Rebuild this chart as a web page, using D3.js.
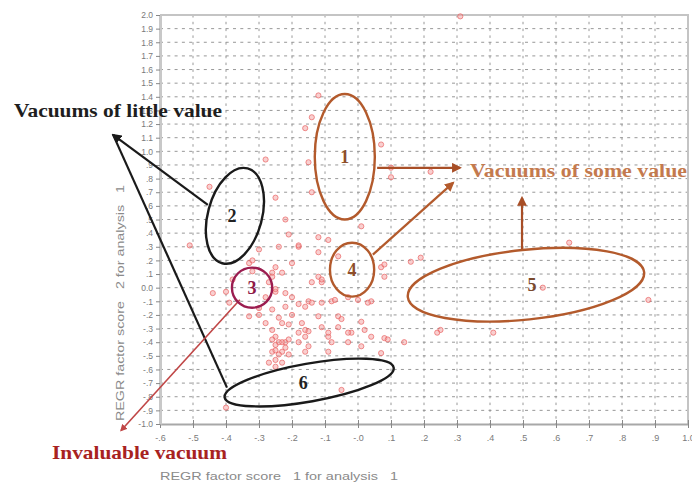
<!DOCTYPE html>
<html><head><meta charset="utf-8">
<script src="https://cdn.jsdelivr.net/npm/d3@7"></script>
<style>
html,body{margin:0;padding:0;background:#fff;}
svg{display:block;}
text{white-space:pre;}
</style></head>
<body>
<svg id="chart" width="692" height="486"></svg>
<script>
// ---- data ----
const xTicks = [-0.6,-0.5,-0.4,-0.3,-0.2,-0.1,0.0,0.1,0.2,0.3,0.4,0.5,0.6,0.7,0.8,0.9,1.0];
const xTickLabels = ["-.6","-.5","-.4","-.3","-.2","-.1","-.0",".1",".2",".3",".4",".5",".6",".7",".8",".9","1.0"];
const yTicks = [-1.0,-0.9,-0.8,-0.7,-0.6,-0.5,-0.4,-0.3,-0.2,-0.1,0.0,0.1,0.2,0.3,0.4,0.5,0.6,0.7,0.8,0.9,1.0,1.1,1.2,1.3,1.4,1.5,1.6,1.7,1.8,1.9,2.0];
const yTickLabels = ["-1.0","-.9","-.8","-.7","-.6","-.5","-.4","-.3","-.2","-.1","0.0",".1",".2",".3",".4",".5",".6",".7",".8",".9","1.0","1.1","1.2","1.3","1.4","1.5","1.6","1.7","1.8","1.9","2.0"];
const xTitle = "REGR factor score   1 for analysis   1";
const yTitle = "REGR factor score   2 for analysis   1";

// factor scores (x = factor 1, y = factor 2)
const score1 = [0.31,-0.12,-0.16,-0.14,-0.28,-0.45,-0.25,-0.14,-0.15,0.07,0.10,0.22,0.01,0.07,0.16,-0.22,-0.21,-0.12,-0.09,-0.30,
  -0.24,-0.18,-0.12,-0.06,-0.33,-0.32,-0.26,-0.23,-0.12,-0.11,-0.28,-0.25,-0.22,-0.15,-0.08,0.00,0.04,0.08,0.08,-0.44,
  -0.38,-0.18,-0.25,-0.20,-0.11,-0.14,-0.25,-0.20,-0.07,-0.03,-0.30,-0.26,-0.22,-0.16,-0.11,-0.24,-0.20,-0.12,-0.06,-0.06,
  -0.11,-0.26,-0.21,-0.25,-0.23,-0.16,-0.09,-0.02,0.04,-0.27,-0.18,-0.14,0.03,-0.33,-0.30,-0.28,-0.23,-0.17,-0.05,0.01,
  -0.18,-0.09,-0.03,0.02,0.08,-0.26,-0.24,-0.22,-0.18,-0.15,-0.08,-0.03,0.01,-0.26,-0.23,-0.21,-0.16,-0.09,-0.25,-0.23,
  -0.05,-0.40,0.64,0.56,0.88,0.25,0.41,0.09,0.14,0.07,-0.51,-0.32,-0.26,-0.40,-0.39,-0.16,-0.27,-0.25,-0.25,-0.22,
  -0.24,-0.21,-0.25,0.10,0.19,-0.15,0.24];
const score2 = [1.99,1.41,1.17,1.25,0.94,0.74,0.66,0.70,0.92,1.05,0.81,0.85,0.45,0.15,0.19,0.50,0.39,0.37,0.35,0.28,
  0.30,0.30,0.26,0.23,0.18,0.12,0.08,0.11,0.08,0.04,-0.07,-0.03,-0.04,-0.10,-0.10,-0.09,-0.10,0.17,0.08,-0.04,
  0.06,0.31,0.15,0.18,0.06,0.04,-0.01,-0.07,-0.09,-0.07,-0.15,-0.16,-0.14,-0.14,-0.11,-0.22,-0.20,-0.21,-0.21,-0.29,
  -0.29,-0.31,-0.27,-0.36,-0.40,-0.36,-0.36,-0.33,-0.36,0.04,-0.12,-0.11,-0.11,-0.21,-0.20,-0.26,-0.26,-0.26,-0.23,-0.25,
  -0.33,-0.33,-0.33,-0.31,-0.37,-0.38,-0.40,-0.40,-0.40,-0.43,-0.40,-0.40,-0.43,-0.47,-0.47,-0.49,-0.47,-0.47,-0.53,-0.55,
  -0.75,-0.88,0.33,0.00,-0.09,-0.31,-0.33,-0.38,-0.40,-0.48,0.31,0.20,0.11,-0.03,-0.11,-0.31,-0.55,-0.58,-0.42,-0.44,
  -0.49,-0.38,-0.46,0.88,0.22,-0.32,-0.33];

// annotations (data units)
const ellipseIds = ["1","2","3","4","5","6"];
const ellipseCx = [-0.04,-0.373,-0.321,-0.018,0.509,-0.148];
const ellipseCy = [0.96,0.527,0.0,0.132,0.022,-0.696];
const ellipseRx = [0.091,0.082,0.061,0.067,0.36,0.26];
const ellipseRy = [0.46,0.36,0.147,0.198,0.256,0.139];
const ellipseAngle = [0,15,0,0,-6,-10];
const ellipseColor = ["#b35a2c","#1a1a1a","#9b1d50","#b35a2c","#b35a2c","#1a1a1a"];
const labelColor = ["#8e4e2a","#222","#8e1a48","#8e4e2a","#7a4a2e","#222"];

const arrowX1 = [0.058,0.045,0.497,-0.455,-0.397,-0.358];
const arrowY1 = [0.879,0.242,0.278,0.608,-0.733,-0.088];
const arrowX2 = [0.309,0.288,0.497,-0.742,-0.742,-0.718];
const arrowY2 = [0.879,0.769,0.659,1.121,1.121,-1.048];
const arrowColor = ["#a84e26","#b35a2c","#a84e26","#1a1a1a","#1a1a1a","#c04646"];
const arrowHead = [true,true,true,true,false,true];

// ---- drawing ----
const svg = d3.select("#chart");
const x = d3.scaleLinear().domain([-0.6,1.0]).range([160,688]);
const y = d3.scaleLinear().domain([-1.0,2.0]).range([424,15]);

// grid
const grid = svg.append("g").attr("stroke","#8c8c8c").attr("stroke-width",0.9);
grid.selectAll("line.h").data(yTicks.filter(d=>d>-1)).join("line")
  .attr("x1",x(-0.6)).attr("x2",x(1.0)).attr("y1",d=>y(d)).attr("y2",d=>y(d))
  .attr("stroke-dasharray","3,4.3");
grid.selectAll("line.v").data(xTicks.filter(d=>d>-0.6 && d<1.0)).join("line")
  .attr("y1",y(2.0)).attr("y2",y(-1.0)).attr("x1",d=>x(d)).attr("x2",d=>x(d))
  .attr("stroke-dasharray","2.5,4.3");

// frame
svg.append("path")
  .attr("d",`M${x(-0.6)},${y(2.0)}H${x(1.0)}V${y(-1.0)}`)
  .attr("fill","none").attr("stroke","#c4c4c4").attr("stroke-width",2);

// axes
const xAxis = svg.append("g").attr("transform",`translate(0,${y(-1.0)})`)
  .call(d3.axisBottom(x).tickValues(xTicks).tickFormat((d,i)=>xTickLabels[i]).tickSizeInner(4).tickSizeOuter(0).tickPadding(7));
xAxis.select(".domain").attr("stroke","#a8a8a8").attr("stroke-width",2);
xAxis.selectAll(".tick line").attr("stroke","#888").attr("y1",-4);
xAxis.selectAll(".tick text").attr("fill","#7a7a7a").attr("font-family","Arial, 'Liberation Sans', sans-serif").attr("font-size",9);

const yAxis = svg.append("g").attr("transform",`translate(${x(-0.6)},0)`)
  .call(d3.axisLeft(y).tickValues(yTicks).tickFormat((d,i)=>yTickLabels[i]).tickSizeInner(4).tickSizeOuter(0).tickPadding(3));
yAxis.select(".domain").attr("stroke","#c8c8c8").attr("stroke-width",3);
yAxis.selectAll(".tick line").attr("stroke","#888");
yAxis.selectAll(".tick text").attr("fill","#7a7a7a").attr("font-family","Arial, 'Liberation Sans', sans-serif").attr("font-size",8.5);

// axis titles
svg.append("text").attr("x",160).attr("y",480).text(xTitle)
  .attr("fill","#8a8a8a").attr("font-family","Arial, 'Liberation Sans', sans-serif").attr("font-size",11)
  .attr("textLength",238).attr("lengthAdjust","spacingAndGlyphs");
svg.append("text").attr("transform","translate(124,421) rotate(-90)").text(yTitle)
  .attr("fill","#8a8a8a").attr("font-family","Arial, 'Liberation Sans', sans-serif").attr("font-size",11)
  .attr("textLength",236).attr("lengthAdjust","spacingAndGlyphs");

// points
const pts = score1.map((v,i)=>({x:v,y:score2[i]}));
svg.append("g").selectAll("circle").data(pts).join("circle")
  .attr("cx",d=>x(d.x)).attr("cy",d=>y(d.y)).attr("r",2.6)
  .attr("fill","#f4a0a0").attr("fill-opacity",0.5)
  .attr("stroke","#e85a5a").attr("stroke-opacity",0.65).attr("stroke-width",1);

// arrow markers
const defs = svg.append("defs");
arrowColor.forEach((c,i)=>{
  defs.append("marker").attr("id","ah"+i).attr("viewBox","0 0 10 10").attr("refX",8).attr("refY",5)
    .attr("markerWidth",4.5).attr("markerHeight",4.5).attr("orient","auto-start-reverse")
    .append("path").attr("d","M0,0L10,5L0,10z").attr("fill",c);
});

// arrows
const arrows = arrowX1.map((v,i)=>({x1:v,y1:arrowY1[i],x2:arrowX2[i],y2:arrowY2[i],c:arrowColor[i],h:arrowHead[i],i}));
svg.append("g").selectAll("line").data(arrows).join("line")
  .attr("x1",d=>x(d.x1)).attr("y1",d=>y(d.y1)).attr("x2",d=>x(d.x2)).attr("y2",d=>y(d.y2))
  .attr("stroke",d=>d.c).attr("stroke-width",d=>d.i===5?1.6:2.2)
  .attr("marker-end",d=>d.h?`url(#ah${d.i})`:null);

// ellipses
const ells = ellipseIds.map((id,i)=>({id,cx:ellipseCx[i],cy:ellipseCy[i],rx:ellipseRx[i],ry:ellipseRy[i],a:ellipseAngle[i],c:ellipseColor[i],lc:labelColor[i]}));
const eg = svg.append("g").selectAll("g").data(ells).join("g")
  .attr("transform",d=>`translate(${x(d.cx)},${y(d.cy)})`);
eg.append("ellipse")
  .attr("rx",d=>x(d.cx+d.rx)-x(d.cx)).attr("ry",d=>y(d.cy)-y(d.cy+d.ry))
  .attr("transform",d=>`rotate(${d.a})`)
  .attr("fill","none").attr("stroke",d=>d.c).attr("stroke-width",2.4);
eg.append("text").text(d=>d.id).attr("text-anchor","middle").attr("dy","0.35em")
  .attr("dx",d=>d.id==="5"?6:(d.id==="6"?-6:(d.id==="2"?-3:0)))
  .attr("fill",d=>d.lc).attr("font-family","'Liberation Serif','Times New Roman',serif")
  .attr("font-weight","bold").attr("font-size",18);

// annotation texts
const serif = "'Liberation Serif','Times New Roman',serif";
svg.append("text").attr("x",14).attr("y",117).text("Vacuums of little value")
  .attr("fill","#1e1e1e").attr("font-family",serif).attr("font-weight","bold").attr("font-size",19)
  .attr("textLength",208).attr("lengthAdjust","spacingAndGlyphs");
svg.append("text").attr("x",470).attr("y",177).text("Vacuums of some value")
  .attr("fill","#c47a4e").attr("font-family",serif).attr("font-weight","bold").attr("font-size",18)
  .attr("textLength",217).attr("lengthAdjust","spacingAndGlyphs");
svg.append("text").attr("x",52).attr("y",459).text("Invaluable vacuum")
  .attr("fill","#a8221f").attr("font-family",serif).attr("font-weight","bold").attr("font-size",19)
  .attr("textLength",175).attr("lengthAdjust","spacingAndGlyphs");
</script>
</body></html>
